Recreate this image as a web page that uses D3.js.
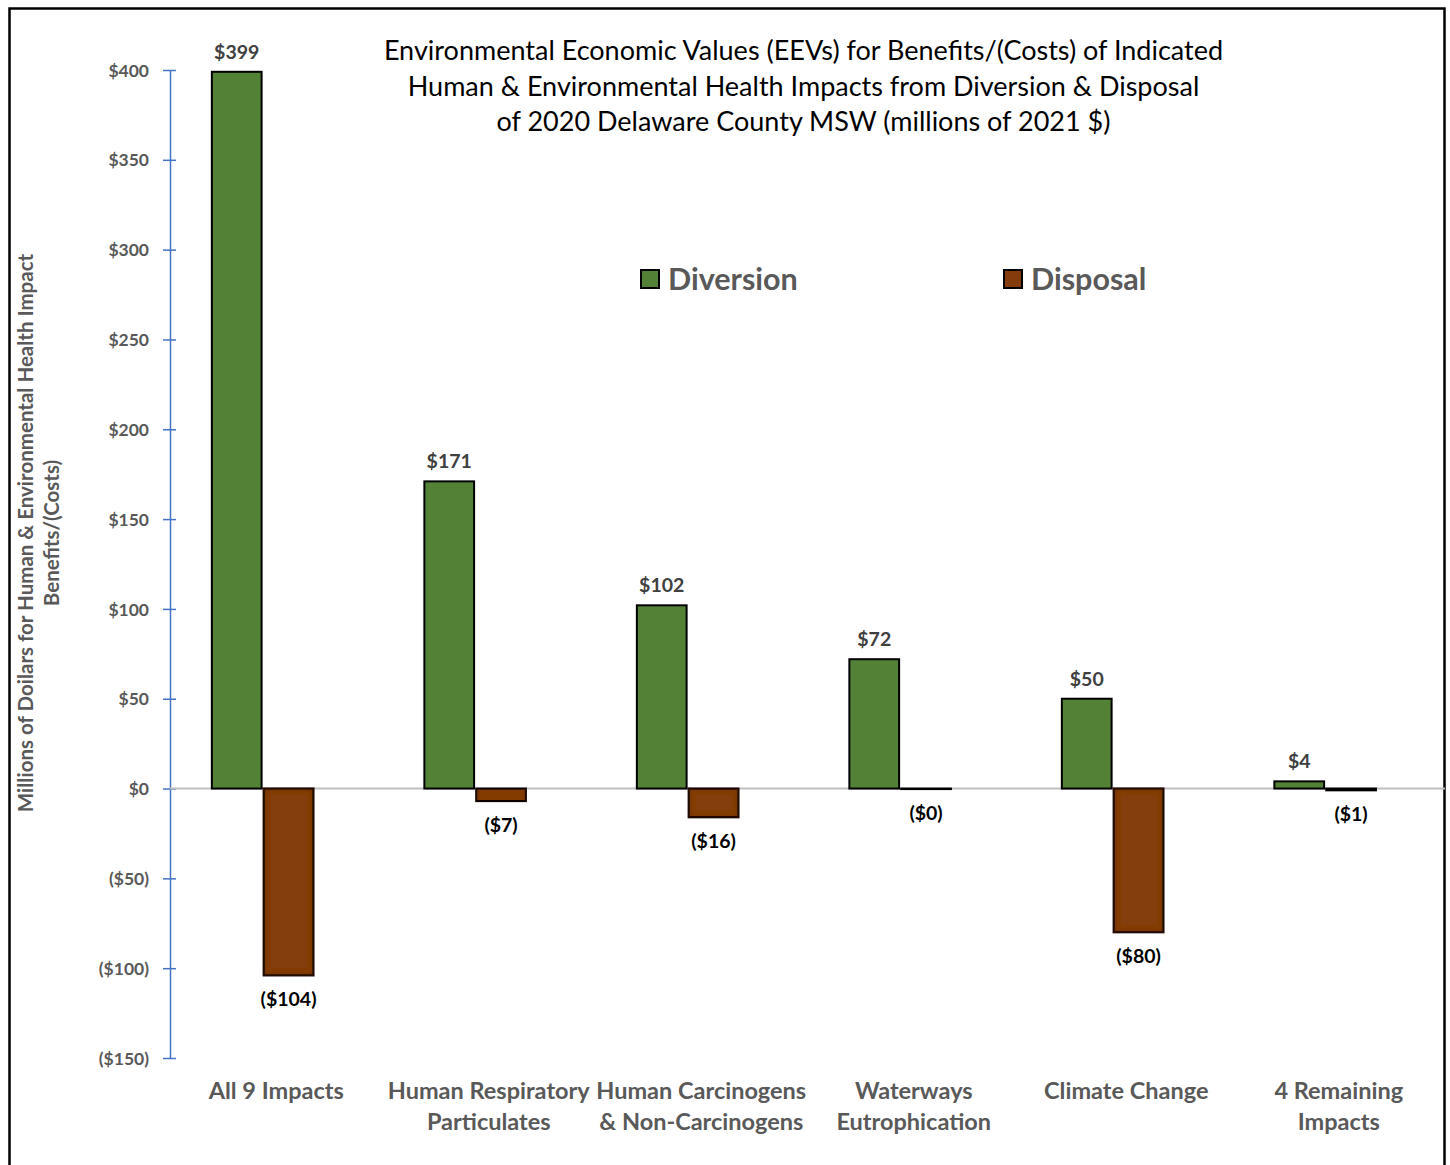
<!DOCTYPE html>
<html>
<head>
<meta charset="utf-8">
<script src="https://cdn.jsdelivr.net/npm/d3@7"></script>
<style>
  html, body { margin: 0; padding: 0; background: #fff; }
  svg text { font-family: Lato, "Open Sans", sans-serif; }
</style>
</head>
<body>
<svg id="chart" width="1450" height="1165"></svg>
<script>
// Impact categories (two-line labels split on "|")
const categories = [
  "All 9 Impacts",
  "Human Respiratory|Particulates",
  "Human Carcinogens|& Non-Carcinogens",
  "Waterways|Eutrophication",
  "Climate Change",
  "4 Remaining|Impacts"
];
// Millions of 2021 dollars
const diversion = [399, 171, 102, 72, 50, 4];
const disposal = [-104, -7, -16, -0.3, -80, -1];
const seriesNames = ["Diversion", "Disposal"];
const yTicks = [400, 350, 300, 250, 200, 150, 100, 50, 0, -50, -100, -150];
const titleLines = [
  "Environmental Economic Values (EEVs) for Benefits/(Costs) of Indicated",
  "Human & Environmental Health Impacts from Diversion & Disposal",
  "of 2020 Delaware County MSW (millions of 2021 $)"
];
const yLabelLines = [
  "Millions of Doilars for Human & Environmental Health Impact",
  "Benefits/(Costs)"
];

const colors = { Diversion: "#538135", Disposal: "#843C0C" };
const svg = d3.select("#chart");

// Soft inner shading used on the disposal bars
const defs = svg.append("defs");
const f = defs.append("filter").attr("id", "innerShade")
  .attr("x", "-10%").attr("y", "-10%").attr("width", "120%").attr("height", "120%");
f.append("feFlood").attr("flood-color", "#3a1a05").attr("flood-opacity", 0.8).attr("result", "c");
f.append("feComposite").attr("in", "c").attr("in2", "SourceAlpha").attr("operator", "out").attr("result", "outside");
f.append("feGaussianBlur").attr("in", "outside").attr("stdDeviation", 3).attr("result", "blur");
f.append("feComposite").attr("in", "blur").attr("in2", "SourceAlpha").attr("operator", "in").attr("result", "shade");
const fm = f.append("feMerge");
fm.append("feMergeNode").attr("in", "SourceGraphic");
fm.append("feMergeNode").attr("in", "shade");

// Outer frame
svg.append("rect").attr("x", 9.5).attr("y", 8.5).attr("width", 1435).attr("height", 1170)
  .attr("fill", "none").attr("stroke", "#000").attr("stroke-width", 2.5);

const plot = { left: 170, right: 1445, top: 70, bottom: 1058 };

const y = d3.scaleLinear().domain([-150, 400]).range([plot.bottom, plot.top]);
const x = d3.scaleBand().domain(categories).range([plot.left, plot.right]).padding(0);
const bw = x.bandwidth();
// Bars sit slightly left of the band centre
const inner = d3.scaleBand().domain(seriesNames)
  .range([bw * 0.197, bw * 0.675]).paddingInner(0.04);

// Axis
const yAxis = d3.axisLeft(y).tickValues(yTicks).tickSize(0)
  .tickFormat(d => d < 0 ? `($${-d})` : `$${d}`);
const gy = svg.append("g").attr("transform", `translate(${plot.left},0)`).call(yAxis);
gy.select(".domain").attr("stroke", "#4472C4").attr("stroke-width", 1.5);
gy.selectAll(".tick text").attr("x", -21).attr("dy", "0.35em")
  .attr("fill", "#595959").attr("font-size", 17.5).attr("font-weight", "bold");
gy.selectAll(".tick").append("line").attr("x1", -7).attr("x2", 6)
  .attr("stroke", "#4472C4").attr("stroke-width", 1.5);

// Zero line
svg.append("line").attr("x1", plot.left).attr("x2", plot.right)
  .attr("y1", y(0)).attr("y2", y(0)).attr("stroke", "#BFBFBF").attr("stroke-width", 2);

// Bars
const rows = categories.map((c, i) => ({ cat: c, Diversion: diversion[i], Disposal: disposal[i] }));
const groups = svg.append("g").selectAll("g").data(rows).join("g")
  .attr("transform", d => `translate(${x(d.cat)},0)`);

groups.selectAll("rect").data(d => seriesNames.map(s => ({ s, v: d[s] }))).join("rect")
  .attr("x", d => inner(d.s))
  .attr("width", inner.bandwidth())
  .attr("y", d => y(Math.max(0, d.v)))
  .attr("height", d => Math.abs(y(d.v) - y(0)))
  .attr("fill", d => colors[d.s])
  .attr("stroke", "#000").attr("stroke-width", 2)
  .attr("filter", d => d.s === "Disposal" && Math.abs(y(d.v) - y(0)) > 6 ? "url(#innerShade)" : null);

// Value labels
const fmt = v => {
  const r = Math.round(Math.abs(v));
  return v < 0 ? `($${r})` : `$${r}`;
};
groups.selectAll("text.val").data(d => seriesNames.map(s => ({ s, v: d[s] }))).join("text")
  .attr("class", "val")
  .attr("x", d => inner(d.s) + inner.bandwidth() / 2)
  .attr("y", d => d.v >= 0 ? y(d.v) - 13 : y(d.v) + 31)
  .attr("text-anchor", "middle")
  .attr("font-size", 19.5).attr("font-weight", "bold")
  .attr("fill", d => d.v >= 0 ? "#404040" : "#000")
  .text(d => fmt(d.v));

// Category labels
const cl = svg.append("g").selectAll("text").data(categories).join("text")
  .attr("x", d => x(d) + bw / 2)
  .attr("y", 1099)
  .attr("text-anchor", "middle")
  .attr("font-size", 23.5).attr("font-weight", "bold").attr("fill", "#595959");
cl.selectAll("tspan").data(d => d.split("|")).join("tspan")
  .attr("x", function () { return d3.select(this.parentNode).attr("x"); })
  .attr("dy", (d, i) => i === 0 ? 0 : 31)
  .text(d => d);

// Title
svg.append("g").selectAll("text").data(titleLines).join("text")
  .attr("x", 803.5).attr("y", (d, i) => 60 + i * 35.5)
  .attr("text-anchor", "middle").attr("font-size", 27).attr("fill", "#000")
  .text(d => d);

// Y-axis title
svg.append("g").selectAll("text").data(yLabelLines).join("text")
  .attr("transform", (d, i) => `translate(${33 + i * 26},533) rotate(-90)`)
  .attr("text-anchor", "middle").attr("font-size", 20.5).attr("font-weight", "bold")
  .attr("fill", "#595959")
  .text(d => d);

// Legend
const legendPos = [{ s: "Diversion", x: 641 }, { s: "Disposal", x: 1004 }];
const lg = svg.append("g").selectAll("g").data(legendPos).join("g")
  .attr("transform", d => `translate(${d.x},270)`);
lg.append("rect").attr("width", 18).attr("height", 18)
  .attr("fill", d => colors[d.s]).attr("stroke", "#000").attr("stroke-width", 2);
lg.append("text").attr("x", 27).attr("y", 19.5)
  .attr("font-size", 30.5).attr("font-weight", "bold").attr("fill", "#595959")
  .text(d => d.s);
</script>
</body>
</html>
